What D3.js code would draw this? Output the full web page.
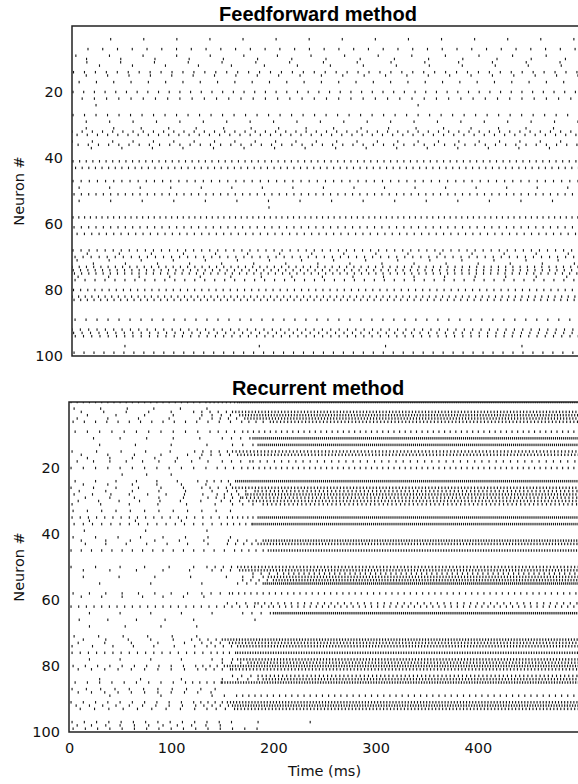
<!DOCTYPE html>
<html><head><meta charset="utf-8">
<script src="https://cdn.jsdelivr.net/npm/d3@7/dist/d3.min.js"></script>
<style>html,body{margin:0;padding:0;background:#fff}svg{display:block}</style>
</head><body>
<script>
// ---------- DATA ----------
const timeTicks = [0, 100, 200, 300, 400];
const neuronTicks = [20, 40, 60, 80, 100];
const panelTitles = ["Feedforward method", "Recurrent method"];

// Feedforward: per active neuron, regular firing period (ms) and first spike (ms)
const ffNeuron = [4, 7, 9, 10, 11, 12, 14, 15, 17, 20, 22, 27, 29, 31, 32, 33, 35, 36, 37, 41, 43, 47, 49, 51, 53, 58, 61, 63, 68, 69, 70, 71, 72, 73, 74, 75, 76, 77, 80, 82, 83, 89, 92, 93, 94, 99];
const ffPeriod = [32.5, 14.5, 33, 33.6, 33.2, 32.4, 10.75, 21, 17, 10.5, 12, 11.3, 23, 27, 10, 10, 20, 10, 30, 6.5, 6.5, 8, 30, 7.2, 31, 5.7, 7.2, 7.2, 7.9, 31.5, 7.9, 31.5, 31.5, 7.1, 7.2, 7.05, 30, 9.8, 7, 6.5, 6.55, 10.8, 8.2, 8.3, 8.1, 9.8];
const ffFirst = [38, 15.7, 3.8, 14.3, 14.6, 27, 1.5, 14, 7, 1, 10, 1, 14, 14, 0, 5, 0, 6, 19, 1, 3.5, 1, 7, 2, 7, 1, 2, 5, 1, 15, 3, 5, 21, 0, 1.2, 2.4, 6, 3, 1.5, 0, 2, 3, 0, 1.6, 3.2, 2];
// isolated spikes [neuron, time]
const ffExtraNeuron = [24, 24, 55, 97, 97, 97, 97];
const ffExtraTime = [23.6, 340, 193.5, 52, 184, 308, 442];

// Recurrent: early period / first spike, start and period of the accelerating phase,
// onset and period of the dense regime (0 = neuron falls silent)
const recNeuron = [0, 2, 3, 4, 5, 6, 9, 11, 13, 15, 16, 17, 18, 20, 22, 24, 25, 26, 27, 28, 29, 30, 31, 33, 35, 36, 37, 39, 41, 42, 43, 45, 50, 51, 52, 53, 54, 55, 58, 59, 61, 62, 64, 66, 68, 71, 72, 73, 74, 76, 78, 79, 80, 81, 83, 84, 85, 87, 88, 89, 91, 92, 93, 97, 98, 99];
const recEarlyPeriod = [6, 26, 22, 28, 30, 11, 12, 26, 35, 24, 26, 22, 16, 12, 24, 20, 24, 22, 26, 18, 24, 20, 28, 14, 8, 45, 9, 60, 22, 24, 20, 10, 24, 26, 0, 35, 0, 50, 16, 20, 0, 7.5, 30, 28, 35, 24, 22, 26, 20, 8, 30, 0, 12, 13, 0, 40, 12, 14, 13, 50, 12, 13, 14, 12, 14, 12];
const recEarlyFirst = [2, 5, 12, 18, 8, 4, 6, 24, 30, 3, 12, 18, 8, 2, 52, 6, 14, 2, 10, 5, 16, 9, 3, 4, 3, 20, 5, 15, 4, 12, 16, 2, 2, 14, 0, 14, 0, 30, 4, 12, 0, 2, 20, 10, 20, 5, 14, 9, 3, 3, 20, 0, 4, 9, 0, 30, 6, 3, 9, 40, 2, 7, 11, 3, 8, 4];
const recRampStart = [135, 150, 125, 140, 140, 170, 140, 150, 160, 125, 130, 150, 150, 145, 110, 135, 160, 130, 155, 145, 140, 150, 160, 170, 155, 150, 150, 170, 175, 160, 155, 165, 135, 140, 180, 170, 170, 165, 130, 150, 155, 175, 175, 150, 135, 135, 120, 130, 135, 140, 140, 150, 125, 130, 160, 165, 120, 150, 150, 150, 125, 130, 135, 160, 150, 185];
const recRampPeriod = [4, 0, 8, 9, 8, 7, 8, 9, 10, 8, 9, 0, 9, 8, 0, 7, 0, 8, 9, 7, 8, 9, 10, 0, 5, 0, 6, 0, 0, 9, 8, 7, 8, 9, 8, 10, 8, 9, 9, 0, 9, 7, 9, 0, 0, 0, 8, 9, 8, 6, 10, 9, 7, 8, 9, 10, 7, 0, 0, 12, 7, 8, 9, 0, 0, 0];
const recOnset = [165, 150, 160, 170, 175, 200, 175, 180, 185, 160, 165, 150, 180, 175, 110, 165, 160, 160, 185, 175, 170, 180, 190, 170, 185, 150, 180, 170, 175, 190, 185, 195, 165, 170, 210, 195, 200, 190, 160, 150, 185, 200, 200, 150, 135, 135, 150, 160, 165, 165, 165, 175, 155, 160, 185, 190, 150, 150, 150, 170, 155, 160, 165, 160, 150, 185];
const recLatePeriod = [1.8, 0, 3.2, 2.8, 3.0, 3.5, 5.5, 2.0, 2.0, 3.5, 3.3, 0, 7, 5.5, 0, 2.0, 0, 3.2, 4.0, 3.0, 3.8, 3.4, 4.2, 0, 2.0, 0, 2.0, 0, 0, 2.6, 3.0, 2.6, 3.4, 3.0, 5, 3.0, 2.8, 2.0, 6, 0, 6.5, 6, 1.9, 0, 0, 0, 2.8, 3.2, 3.0, 2.5, 3.0, 3.2, 2.6, 3.4, 4, 3, 2.6, 0, 0, 6, 3.0, 2.6, 3.4, 0, 0, 0];
const recExtraNeuron = [66, 97, 97];
const recExtraTime = [182, 185, 236];

const T_MAX = 500;

// ---------- BUILD SPIKES ----------
function ffSpikes() {
  const s = [];
  ffNeuron.forEach((n, k) => {
    for (let t = ffFirst[k]; t < T_MAX; t += ffPeriod[k]) s.push({n, t});
  });
  ffExtraNeuron.forEach((n, k) => s.push({n, t: ffExtraTime[k]}));
  return s;
}
function recSpikes() {
  const s = [];
  recNeuron.forEach((n, k) => {
    const earlyEnd = recRampPeriod[k] > 0 ? recRampStart[k] : recOnset[k];
    let last = -1e9;
    if (recEarlyPeriod[k] > 0)
      for (let t = recEarlyFirst[k]; t < earlyEnd; t += recEarlyPeriod[k]) { s.push({n, t}); last = t; }
    if (recRampPeriod[k] > 0)
      for (let t = Math.max(recRampStart[k], last + recRampPeriod[k]); t < recOnset[k]; t += recRampPeriod[k]) s.push({n, t});
    if (recLatePeriod[k] > 0)
      for (let t = recOnset[k]; t < T_MAX; t += recLatePeriod[k]) s.push({n, t});
  });
  recExtraNeuron.forEach((n, k) => s.push({n, t: recExtraTime[k]}));
  return s;
}

// ---------- DRAW ----------
const W = 578, H = 784;
const svg = d3.select("body").append("svg").attr("width", W).attr("height", H);

const panels = [
  {left: 72, right: 581, top: 26, bottom: 356, spikes: ffSpikes(), title: panelTitles[0], titleY: 20.5, xlabels: false},
  {left: 69, right: 580, top: 402, bottom: 732, spikes: recSpikes(), title: panelTitles[1], titleY: 395, xlabels: true}
];

panels.forEach((p, pi) => {
  const x = d3.scaleLinear().domain([0, T_MAX]).range([p.left, p.right]);
  const y = d3.scaleLinear().domain([0, 100]).range([p.top, p.bottom]);
  const g = svg.append("g");

  g.append("clipPath").attr("id", "clip" + pi).append("rect")
    .attr("x", p.left).attr("y", p.top).attr("width", p.right - p.left).attr("height", p.bottom - p.top);

  g.append("g").attr("clip-path", `url(#clip${pi})`)
    .selectAll("rect").data(p.spikes).join("rect")
    .attr("x", d => x(d.t) - 0.55).attr("y", d => y(d.n) - 1.25)
    .attr("width", 1.1).attr("height", 2.5).attr("fill", "#161616");

  // spines (right spine is outside the picture)
  g.append("path")
    .attr("d", `M${p.right},${p.top}H${p.left}V${p.bottom}H${p.right}`)
    .attr("fill", "none").attr("stroke", "#222").attr("stroke-width", 1.5);

  // y axis labels
  const yAxis = d3.axisLeft(y).tickValues(neuronTicks).tickSize(0).tickPadding(8);
  const ya = g.append("g").attr("transform", `translate(${p.left - 1},0)`).call(yAxis);
  ya.select(".domain").remove();
  ya.selectAll("text").attr("font-family", "DejaVu Sans").attr("font-size", 14.5).attr("fill", "#111");

  if (p.xlabels) {
    const xAxis = d3.axisBottom(x).tickValues(timeTicks).tickSize(0).tickPadding(11);
    const xa = g.append("g").attr("transform", `translate(0,${p.bottom})`).call(xAxis);
    xa.select(".domain").remove();
    xa.selectAll("text").attr("font-family", "DejaVu Sans").attr("font-size", 14.5).attr("fill", "#111");
    g.append("text").attr("x", 324.5).attr("y", 776).attr("text-anchor", "middle")
      .attr("font-family", "DejaVu Sans").attr("font-size", 14.5).attr("fill", "#111").text("Time (ms)");
  }

  g.append("text").attr("transform", `translate(19,${(p.top + p.bottom) / 2}) rotate(-90)`)
    .attr("text-anchor", "middle").attr("dominant-baseline", "central")
    .attr("font-family", "DejaVu Sans").attr("font-size", 14.5).attr("fill", "#111").text("Neuron #");

  g.append("text").attr("x", 318).attr("y", p.titleY).attr("text-anchor", "middle")
    .attr("font-family", "Liberation Sans, Arial, sans-serif").attr("font-weight", "bold")
    .attr("font-size", 20).attr("fill", "#000").text(p.title);
});
</script>
</body></html>
